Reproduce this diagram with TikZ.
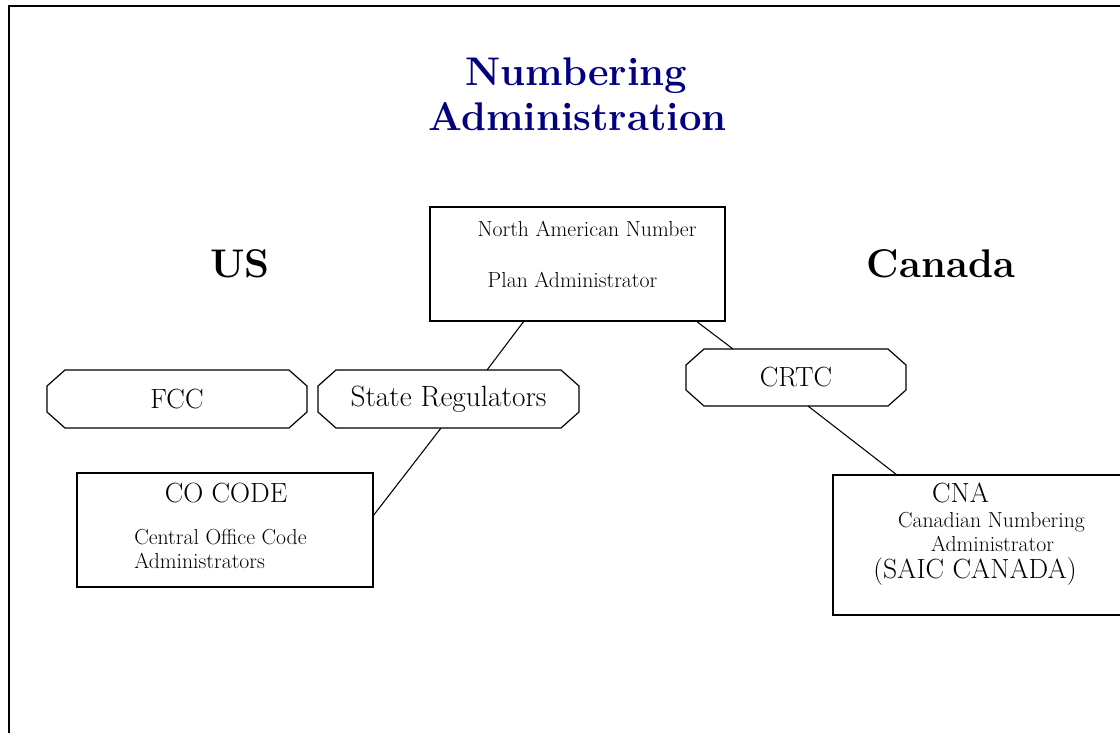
\documentclass[tikz,border=0pt]{standalone}
\usepackage{fontspec}
\definecolor{navy}{RGB}{0,0,128}
\tikzset{
  box/.style={draw, line width=0.9pt, rectangle, inner sep=0pt, outer sep=0pt},
  octo/.style={draw=none, rectangle, inner sep=0pt, outer sep=0pt, minimum height=43.5pt, font=\fontsize{20.8}{25}\selectfont},
  big/.style={anchor=base, inner sep=0pt, font=\fontsize{20.8}{25}\selectfont},
  small/.style={anchor=base, inner sep=0pt, font=\fontsize{16.3}{19}\selectfont},
  head/.style={anchor=base, inner sep=0pt, font=\fontsize{30}{36}\selectfont\bfseries},
  link/.style={line width=0.8pt}
}
\newcommand\octagonframe[1]{%
  \draw[line width=0.9pt] ([xshift=13.5pt]#1.north west) -- ([xshift=-13.5pt]#1.north east)
    -- ([yshift=-12pt]#1.north east) -- ([yshift=12pt]#1.south east)
    -- ([xshift=-13.5pt]#1.south east) -- ([xshift=13.5pt]#1.south west)
    -- ([yshift=12pt]#1.south west) -- ([yshift=-12pt]#1.north west) -- cycle;}
\begin{document}
\begin{tikzpicture}[x=0.75pt,y=-0.75pt]
\useasboundingbox (0,0) rectangle (1120,733);
\clip (0,0) rectangle (1120,733);
% frame
\draw[line width=1.9pt] (9,733) -- (9,6) -- (1125,6);
% title
\node[head, text=navy] (t1) at (576.5,85) {Numbering};
\node[head, text=navy] (t2) at (577.5,130) {Administration};
\node[head] (us) at (240,277) {US};
\node[head] (ca) at (941,277) {Canada};
% NANPA
\node[box, minimum width=221.25pt, minimum height=85.5pt] (nanpa) at (577.5,264) {};
\node[small] (nanpa1) at (587,236) {North American Number};
\node[small] (nanpa2) at (572.5,287) {Plan Administrator};
% octagons
\node[octo, minimum width=195pt] (fcc) at (177,399) {FCC};
\octagonframe{fcc}
\node[octo, minimum width=195.75pt, font=\fontsize{22}{26}\selectfont] (streg) at (448.5,399) {State Regulators};
\octagonframe{streg}
\node[octo, minimum width=165pt, minimum height=42.75pt] (crtc) at (796,377.5) {CRTC};
\octagonframe{crtc}
% CO CODE
\node[box, minimum width=222pt, minimum height=85.5pt] (cocode) at (225,530) {};
\node[big] (co1) at (226,502) {CO CODE};
\node[small, anchor=base west] (co2) at (134,544) {Central Office Code};
\node[small, anchor=base west] (co3) at (134,568) {Administrators};
% CNA
\node[box, minimum width=219pt, minimum height=105pt] (cna) at (979,545) {};
\node[big] (cna1) at (960.5,502) {CNA};
\node[small] (cna2) at (991.5,527) {Canadian Numbering};
\node[small] (cna3) at (992.5,551) {Administrator};
\node[big] (cna4) at (975,578) {(SAIC CANADA)};
% connectors
\draw[link] ([xshift=-40.1pt]nanpa.south) -- ([xshift=28.9pt]streg.north);
\draw[link] ([xshift=-5.6pt]streg.south) -- ([yshift=10.5pt]cocode.east);
\draw[link] ([xshift=88.9pt]nanpa.south) -- ([xshift=-47.25pt]crtc.north);
\draw[link] ([xshift=9pt]crtc.south) -- ([xshift=-61.5pt]cna.north);
\end{tikzpicture}
\end{document}
